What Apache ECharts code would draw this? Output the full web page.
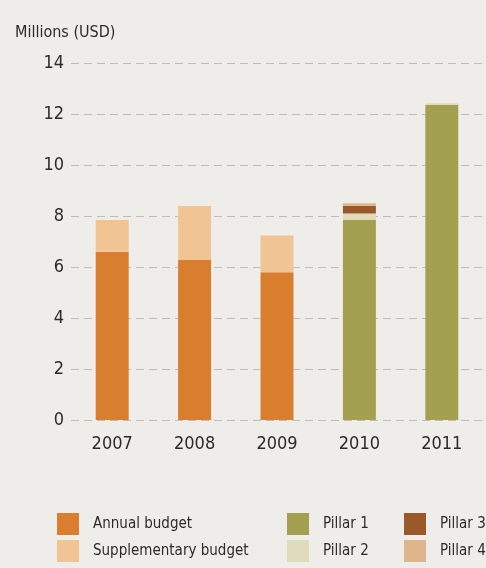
<!DOCTYPE html>
<html>
<head>
<meta charset="utf-8">
<script src="https://cdn.jsdelivr.net/npm/echarts@6/dist/echarts.min.js"></script>
<style>
  html, body { margin: 0; padding: 0; background: #eeedea; }
  #chart { width: 486px; height: 568px; }
</style>
</head>
<body>
<div id="chart"></div>
<script>
// data
const years = ['2007', '2008', '2009', '2010', '2011']
const annualBudget = [6.6, 6.27, 5.79, null, null]
const supplementaryBudget = [1.24, 2.12, 1.45, null, null]
const pillar1 = [null, null, null, 7.84, 12.36]
const pillar2 = [null, null, null, 0.26, 0.06]
const pillar3 = [null, null, null, 0.3, null]
const pillar4 = [null, null, null, 0.1, null]
const yTicks = { min: 0, max: 14, interval: 2 }

const FONT = '"DejaVu Sans Condensed", "Liberation Sans Narrow", sans-serif'
const TEXT = '#2b2b2b'

const chart = echarts.init(document.getElementById('chart'))

function bar(name, data, color) {
  return {
    name,
    type: 'bar',
    stack: 'total',
    data,
    barWidth: '40%',
    itemStyle: { color },
    emphasis: { disabled: true }
  }
}

function legendBlock(left, names) {
  return {
    orient: 'vertical',
    left,
    top: 513,
    padding: 0,
    itemWidth: 22,
    itemHeight: 22,
    itemGap: 5,
    icon: 'rect',
    selectedMode: false,
    data: names,
    textStyle: { fontFamily: FONT, fontSize: 15, color: TEXT, padding: [0, 0, 0, 9] }
  }
}

chart.setOption({
  backgroundColor: '#eeedea',
  animation: false,
  title: {
    text: 'Millions (USD)',
    left: 10,
    top: 20,
    textStyle: { fontFamily: FONT, fontSize: 16, fontWeight: 'normal', color: TEXT }
  },
  grid: { left: 71, right: 3, top: 63, bottom: 148 },
  legend: [
    legendBlock(57, ['Annual budget', 'Supplementary budget']),
    legendBlock(287, ['Pillar 1', 'Pillar 2']),
    legendBlock(404, ['Pillar 3', 'Pillar 4'])
  ],
  xAxis: {
    type: 'category',
    data: years,
    axisLine: { show: false },
    axisTick: { show: false },
    axisLabel: { fontFamily: FONT, fontSize: 18, color: TEXT, margin: 15 }
  },
  yAxis: {
    type: 'value',
    min: yTicks.min,
    max: yTicks.max,
    interval: yTicks.interval,
    axisLine: { show: false },
    axisTick: { show: false },
    axisLabel: { fontFamily: FONT, fontSize: 18, color: TEXT, margin: 7 },
    splitLine: { lineStyle: { color: '#c8b9b9', width: 1, type: [8, 5] } }
  },
  series: [
    bar('Annual budget', annualBudget, '#d97d2e'),
    bar('Supplementary budget', supplementaryBudget, '#f1c494'),
    bar('Pillar 1', pillar1, '#a3a04f'),
    bar('Pillar 2', pillar2, '#dedcbc'),
    bar('Pillar 3', pillar3, '#9a582b'),
    bar('Pillar 4', pillar4, '#dfb58b')
  ]
})
</script>
</body>
</html>
